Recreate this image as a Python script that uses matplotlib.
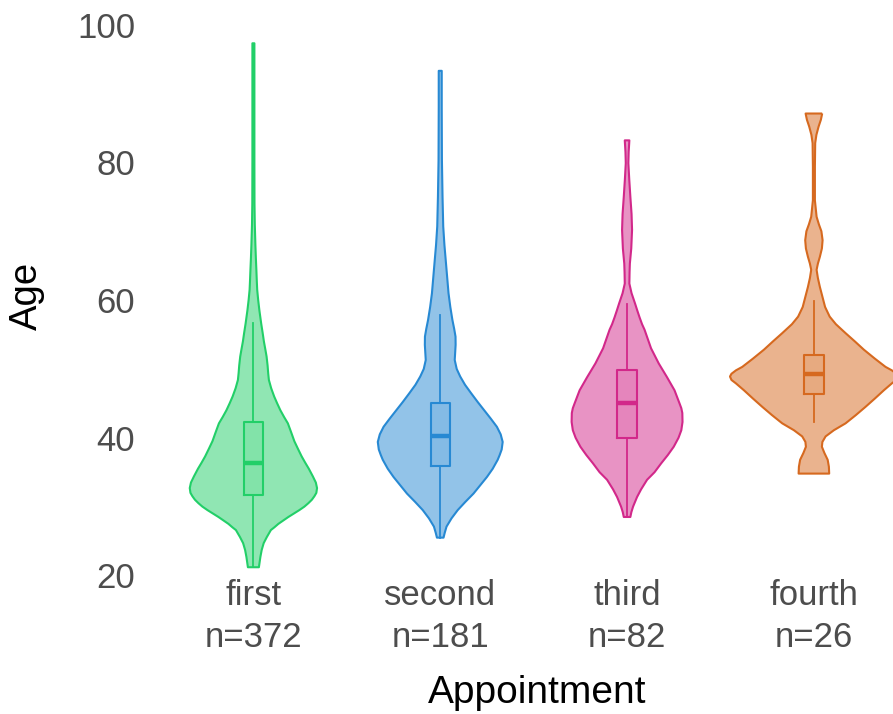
import numpy as np
import matplotlib.pyplot as plt

plt.rcParams['font.family'] = ['Liberation Sans', 'DejaVu Sans']

groups = ['first', 'second', 'third', 'fourth']
counts = [372, 181, 82, 26]

# violin outlines: age and half width (relative density)
first_age = [97.3, 90, 80, 74, 71, 68, 66, 64.3, 62.8, 61.5, 60, 58.5, 56.6, 55.3, 54, 52.8,
             51.8, 50.5, 49.4, 48.4, 47.2, 46, 45, 44, 43, 42.1, 40.8, 39.5, 38.4, 37.3,
             36.4, 35.5, 34.4, 33.5, 32.7, 32.0, 31.5, 31, 30.5, 30, 29.5, 29, 28.5, 28,
             27.5, 27, 26.6, 25.6, 24.7, 23.7, 22.7, 21.2]
first_den = [1.0, 1.0, 1.0, 1.1, 1.4, 2.0, 2.5, 3.0, 3.4, 3.8, 4.8, 6.0, 7.8, 9.2, 10.5, 12.0,
             13.2, 14.2, 14.8, 15.5, 17.8, 20.8, 23.8, 27, 30.8, 34.5, 37.8, 41, 44.6, 48.3,
             51.8, 55.5, 59.5, 62.5, 63.7, 63, 61, 58.5, 55, 51, 46, 40.5, 35, 30,
             25, 21, 17.5, 13.5, 10.3, 8.3, 7, 5.5]

second_age = [93.3, 88, 80.3, 75, 70.7, 68, 65.8, 63.4, 61.0, 59, 57.1, 55.8, 54.7, 53.5,
              52.5, 51.3, 50, 48.9, 47.7, 46.5, 45.2, 44.0, 42.8, 41.6, 40.5, 39.4, 38.3,
              37.5, 36.8, 35.5, 34.3, 33.1, 31.9, 30.7, 29.5, 28.3, 27.1, 26.2, 25.5]
second_den = [1.5, 1.5, 1.7, 2.3, 3, 4.2, 5.5, 6.9, 8.3, 10.1, 12.2, 14.0, 15.3, 15.4,
              15.0, 14.5, 16.5, 20, 24.8, 30.8, 37.5, 44, 50.5, 56.7, 60.5, 62.5, 61.5,
              59.5, 57.5, 52.5, 46.7, 40.0, 33.3, 25.2, 17.5, 11.3, 6.3, 4.5, 3.3]

third_age = [83.2, 81.5, 79.9, 77.5, 75.0, 72.5, 70.2, 67.5, 65.3, 64, 62.4, 61, 59.5, 58.5,
             57.5, 56.5, 55.7, 53, 50.8, 48.8, 46.9, 45, 44.3, 43.6, 42.3, 41.1, 40,
             38.7, 37.5, 36.3, 35, 33.9, 32.5, 31.4, 30, 29.2, 28.5]
third_den = [2.3, 1.6, 1.3, 2.2, 3.3, 4.5, 5, 4.2, 2.8, 2.5, 2.3, 4.5, 8, 10.2,
             12.5, 15, 17.5, 24, 31.7, 40, 47.5, 52.5, 54.3, 55.3, 55.5, 54.3, 51.5,
             46.7, 40.8, 34.2, 27.5, 20, 14, 10, 6, 4.3, 3.3]

fourth_age = [87.1, 86.2, 85.2, 84, 82.8, 79.4, 74.5, 72.1, 71, 70, 68.7, 67.5, 66.3, 65.3,
              64.4, 63.2, 61.9, 59.0, 57.6, 56.5, 55.2, 54, 52.8, 51.5, 50.3, 49.8, 49.3,
              48.9, 48.4, 47.9, 46.9, 45.7, 44.5, 43.3, 42.1, 41.1, 40.2, 39.4, 38.7,
              37.8, 36.8, 35.8, 34.8]
fourth_den = [8.3, 7, 4.7, 2.5, 1.3, 1, 1, 2.7, 5, 7.5, 8.7, 8, 6, 4,
              2.7, 4, 6, 11.2, 15.8, 22, 31.7, 41, 50, 61, 71.7, 78, 82.5,
              84, 82.5, 78, 70, 61, 51.7, 42, 31.7, 20, 11.7, 8.5, 8,
              10.5, 13.8, 15, 15.3]

# box stats: low whisker, q1, median, q3, high whisker
box_low = [21.3, 25.5, 28.5, 42.3]
box_q1 = [31.7, 35.9, 40.0, 46.3]
box_med = [36.3, 40.2, 45.0, 49.2]
box_q3 = [42.3, 45.1, 49.9, 52.0]
box_high = [56.7, 57.9, 59.4, 59.9]

colors = ['#22CF68', '#2789D3', '#D2288A', '#D6691F']

ages = [first_age, second_age, third_age, fourth_age]
dens = [first_den, second_den, third_den, fourth_den]

fig = plt.figure(figsize=(8.93, 7.14), dpi=100)
ax = fig.add_axes([141.3 / 893, (714 - 575.5) / 714, 784.7 / 893, 550.8 / 714])

scale = 1 / 187.0
bw = 0.052
for i in range(4):
    y = np.array(ages[i])
    w = np.array(dens[i]) * scale
    xs = np.concatenate([i + w, (i - w)[::-1]])
    ys = np.concatenate([y, y[::-1]])
    ax.fill(xs, ys, facecolor=colors[i], alpha=0.5, edgecolor='none', zorder=1)
    ax.fill(xs, ys, facecolor='none', edgecolor=colors[i], lw=1.5, joinstyle='round', zorder=2)
    # whiskers
    ax.plot([i, i], [box_q3[i], box_high[i]], color=colors[i], lw=1.3, zorder=3)
    ax.plot([i, i], [box_low[i], box_q1[i]], color=colors[i], lw=1.3, zorder=3)
    # box
    ax.fill([i - bw, i + bw, i + bw, i - bw], [box_q1[i], box_q1[i], box_q3[i], box_q3[i]],
            facecolor=colors[i], alpha=0.12, edgecolor='none', zorder=3)
    ax.plot([i - bw, i + bw, i + bw, i - bw, i - bw],
            [box_q1[i], box_q1[i], box_q3[i], box_q3[i], box_q1[i]],
            color=colors[i], lw=1.5, zorder=4)
    ax.plot([i - bw, i + bw], [box_med[i], box_med[i]], color=colors[i], lw=3.2,
            solid_capstyle='butt', zorder=5)

ax.set_xlim(-0.6, 3.6)
ax.set_ylim(20, 100)
for s in ax.spines.values():
    s.set_visible(False)

ax.set_yticks([20, 40, 60, 80, 100])
ax.set_xticks(range(4))
ax.set_xticklabels([f'{g}\nn={n}' for g, n in zip(groups, counts)], linespacing=1.33)
ax.tick_params(axis='y', length=0, labelsize=25, labelcolor='#4D4D4D', pad=4.3)
ax.tick_params(axis='x', length=0, labelsize=25, labelcolor='#4D4D4D', pad=2.5)

fig.text(27 / 893, 1 - 296 / 714, 'Age', rotation=90, ha='center', va='center',
         fontsize=27.5, color='black')
fig.text(537 / 893, 1 - 693 / 714, 'Appointment', ha='center', va='center',
         fontsize=28, color='black')

fig.savefig('out.png', dpi=100)
